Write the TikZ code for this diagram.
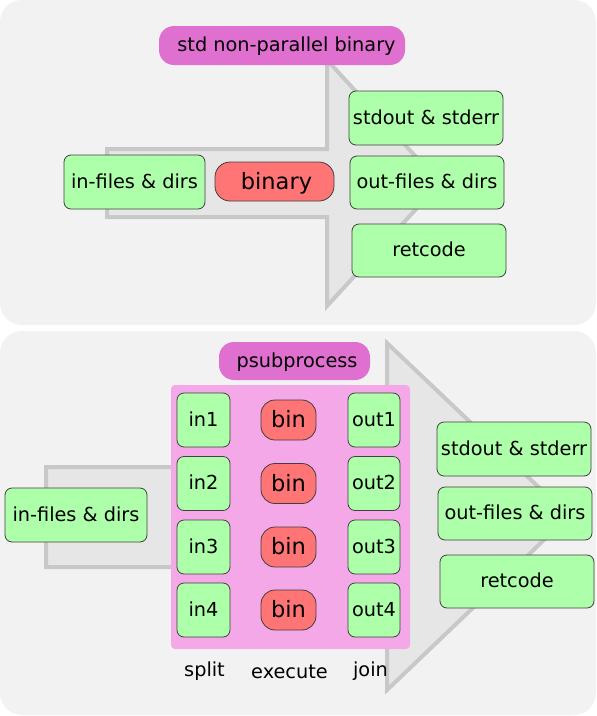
\documentclass[tikz,border=0pt]{standalone}
\usepackage{fontspec}
\setmainfont{DejaVu Sans}
\definecolor{panelgray}{HTML}{F2F2F2}
\definecolor{flowfill}{HTML}{E6E6E6}
\definecolor{flowedge}{HTML}{C8C8C8}
\definecolor{titlepill}{HTML}{E070D0}
\definecolor{workarea}{HTML}{F4A8E8}
\definecolor{iobox}{HTML}{AEFFAA}
\definecolor{binfill}{HTML}{FF7474}
\definecolor{edgedark}{HTML}{404040}
\begin{document}
\begin{tikzpicture}[x=1pt,y=-1pt,
  font=\fontsize{19.3}{23}\selectfont,
  panel/.style={fill=panelgray, rounded corners=22pt},
  flow/.style={fill=flowfill, draw=flowedge, line width=4pt, line join=miter},
  base/.style={inner sep=0pt, anchor=center, text height=15.5pt, text depth=3.5pt},
  iobox/.style={base, draw=edgedark, fill=iobox, rounded corners=7pt, line width=0.8pt},
  binpill/.style={base, draw=edgedark, fill=binfill, rounded corners=15pt, line width=0.8pt,
    text height=18.5pt, text depth=3.5pt, font=\fontsize{22.5}{26}\selectfont},
  titlebox/.style={base, fill=titlepill, rounded corners=15pt},
  caption/.style={inner sep=0pt, anchor=base}
]
\useasboundingbox (0,0) rectangle (597,716);

% ---------- upper panel: plain binary ----------
\fill[panel] (0,0) rectangle (596,325);
\draw[flow] (107,149) -- (327,149) -- (327,60) -- (440,183) -- (327,306)
  -- (327,217) -- (107,217) -- cycle;

\node[titlebox, minimum width=246pt, minimum height=39pt] (title1) at (282,45.5) {};
\node[base] (title1text) at (286.5,45.5) {std non-parallel binary};
\node[iobox, minimum width=141pt, minimum height=54pt] (in1files) at (134.5,182)
  {in-files \& dirs};
\node[binpill, minimum width=119pt, minimum height=39pt] (binary) at (274.5,181.5) {};
\node[base, text height=18.5pt, font=\fontsize{22.5}{26}\selectfont] (binarytext)
  at (276.5,181.5) {binary};
\node[iobox, minimum width=154pt, minimum height=54pt] (stdio1) at (426,118)
  {stdout \& stderr};
\node[iobox, minimum width=154pt, minimum height=53pt] (out1files) at (427,182.5)
  {out-files \& dirs};
\node[iobox, minimum width=154pt, minimum height=53pt] (ret1) at (429,250.5)
  {retcode};

% ---------- lower panel: psubprocess ----------
\fill[panel] (0,331) rectangle (596,715);
\draw[flow] (46,467) -- (387,467) -- (387,343) -- (569,516) -- (387,690)
  -- (387,567) -- (46,567) -- cycle;

\node[titlebox, minimum width=151pt, minimum height=38pt] (title2) at (294.5,361) {};
\node[base] (title2text) at (297,361) {psubprocess};
\fill[workarea, rounded corners=4pt] (171,385) rectangle (410,649);

\node[iobox, minimum width=142pt, minimum height=54pt] (in2files) at (76,515)
  {in-files \& dirs};

\foreach \i/\y in {1/420, 2/483.5, 3/547, 4/610}{
  \node[iobox, minimum width=53pt, minimum height=54pt] (in\i) at (203.5,\y) {in\i};
  \node[binpill, minimum width=55pt, minimum height=40pt, rounded corners=14pt]
    (bin\i) at (288.5,\y) {bin};
  \node[iobox, minimum width=52pt, minimum height=54pt] (out\i) at (374,\y) {out\i};
}

\node[caption] (split) at (204.5,676) {split};
\node[caption] (execute) at (289.5,678) {execute};
\node[caption] (join) at (370.5,676) {join};

\node[iobox, minimum width=154pt, minimum height=54pt] (stdio2) at (514,449)
  {stdout \& stderr};
\node[iobox, minimum width=154pt, minimum height=53pt] (out2files) at (515,513.5)
  {out-files \& dirs};
\node[iobox, minimum width=154pt, minimum height=53pt] (ret2) at (517,581.5)
  {retcode};
\end{tikzpicture}
\end{document}
